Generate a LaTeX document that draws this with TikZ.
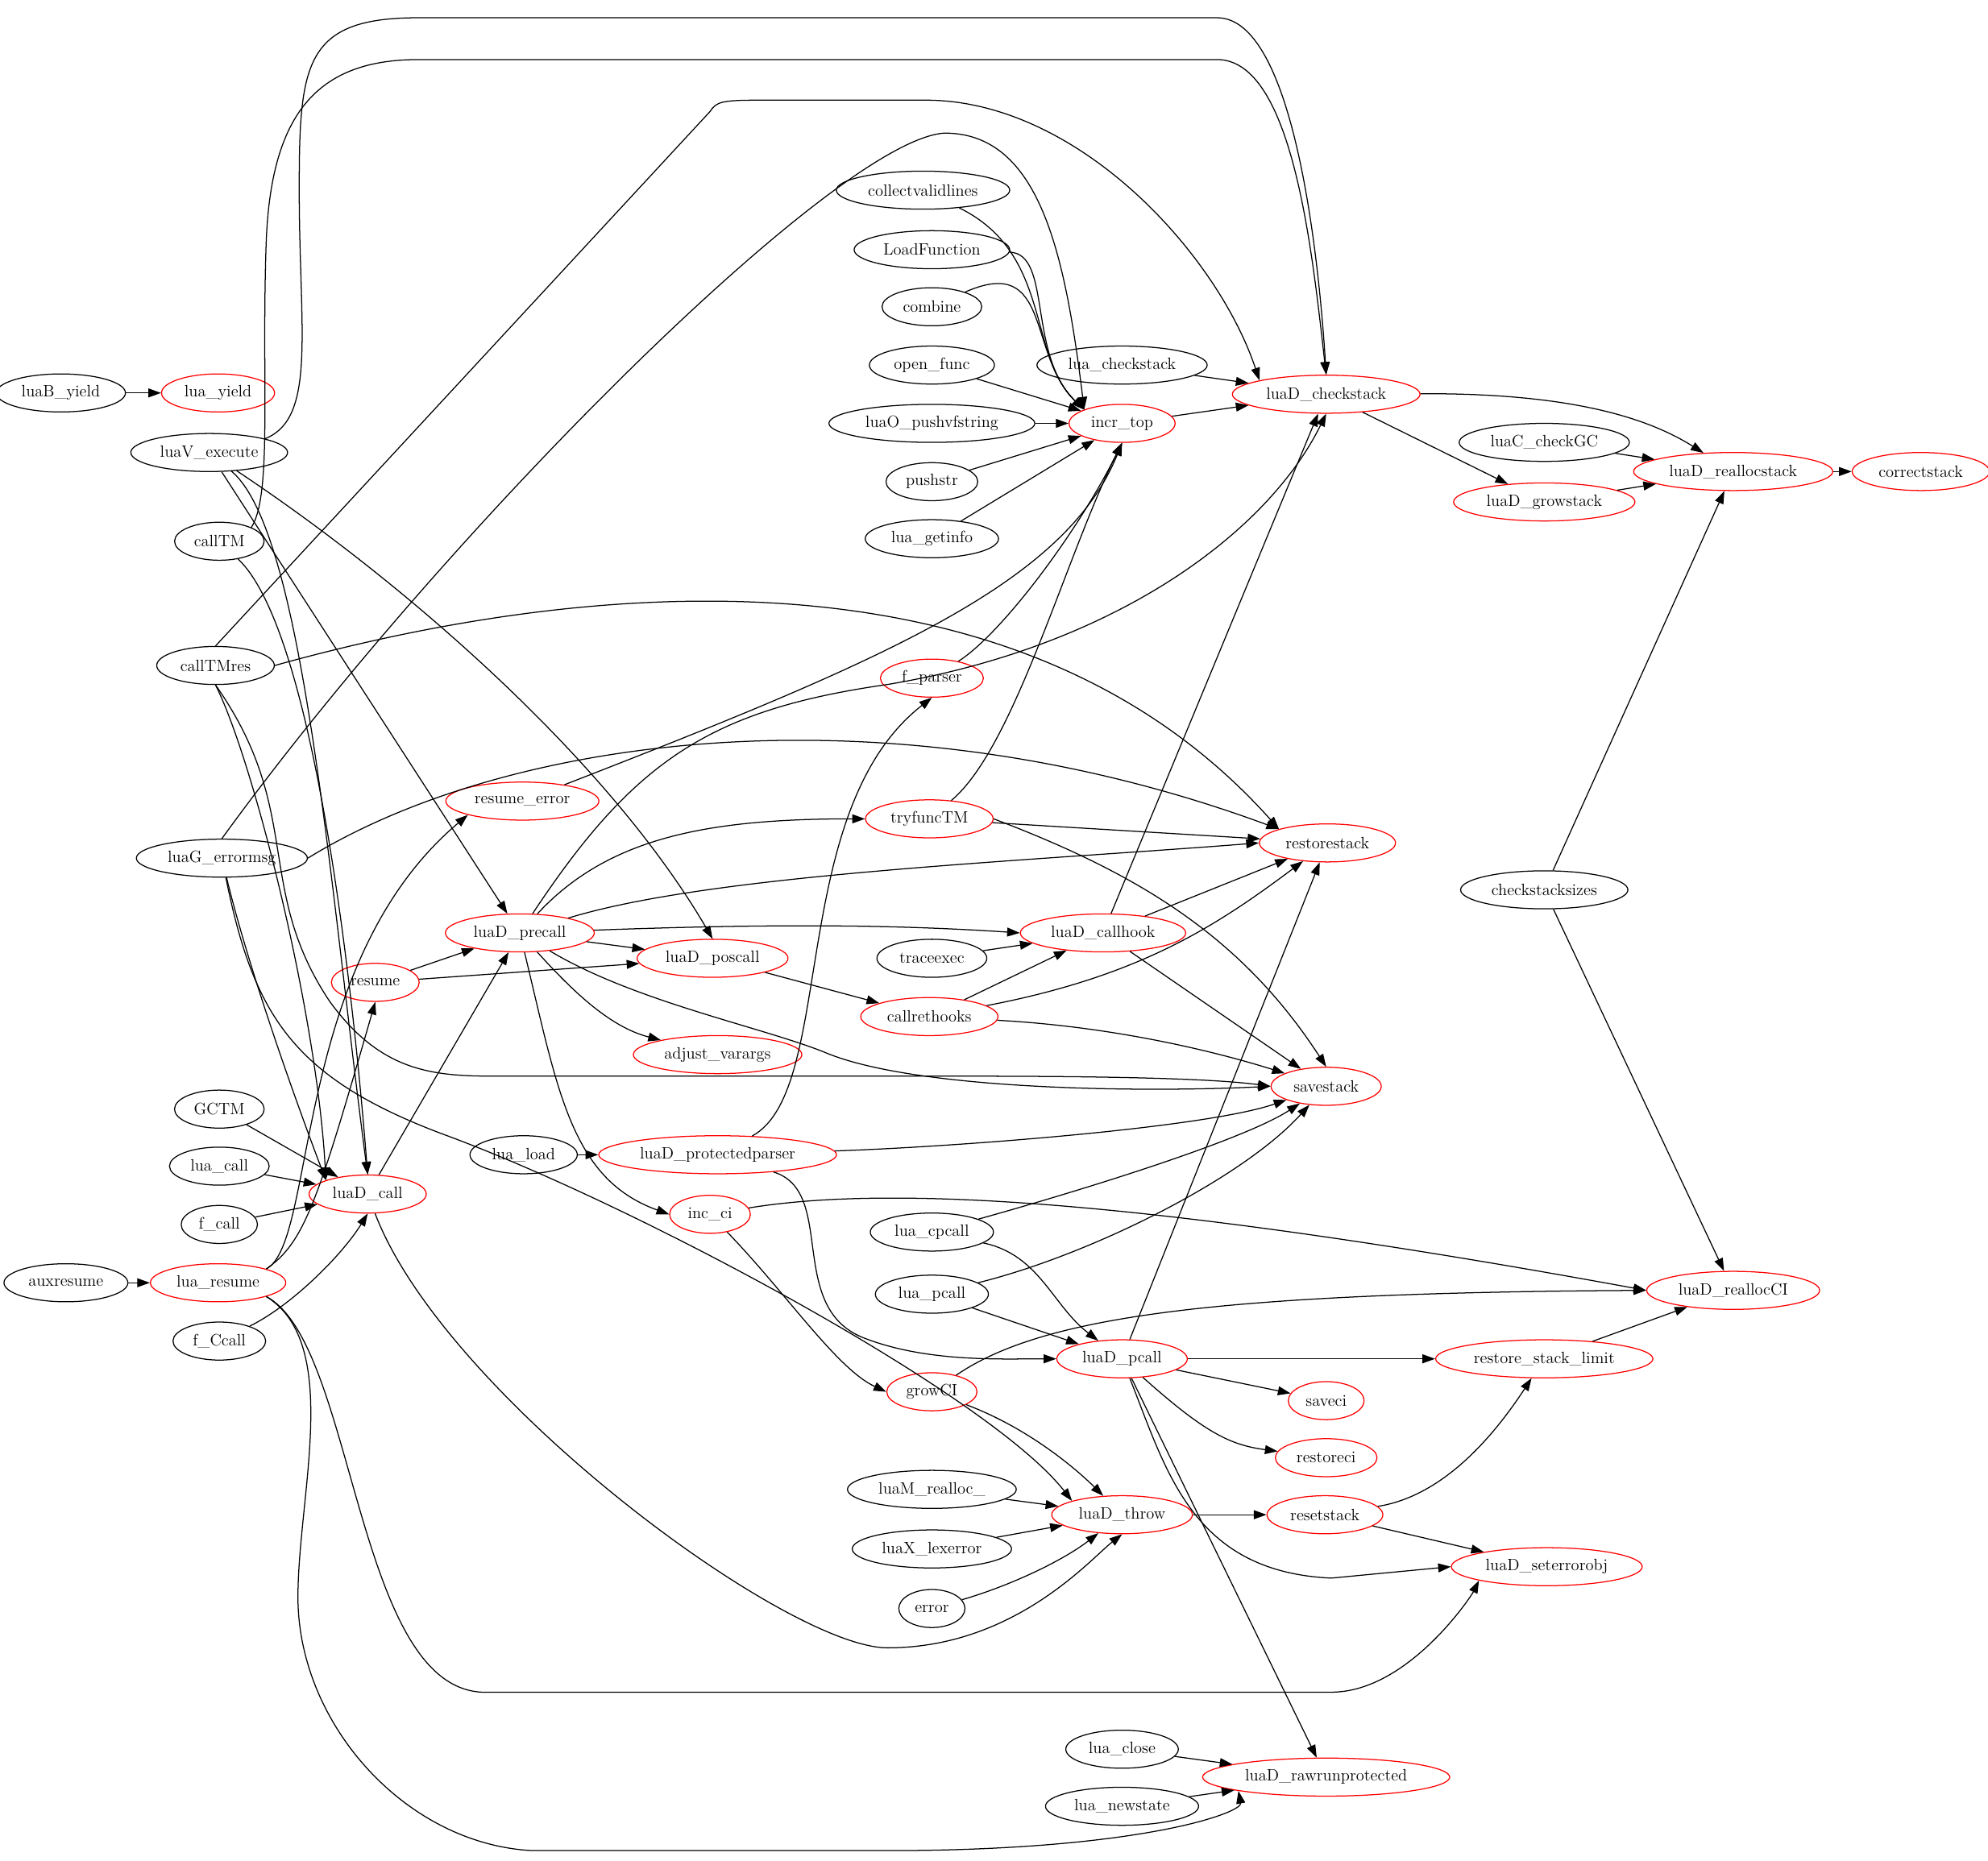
\documentclass[tikz,border=0pt]{standalone}
\usetikzlibrary{arrows.meta,shapes.geometric}
\begin{document}
\begin{tikzpicture}[x=1pt,y=-1pt,
  every node/.style={ellipse,draw=black,line width=0.8pt,font=\fontsize{13}{15}\selectfont,minimum height=30pt,inner xsep=5pt,inner ysep=2pt},
  r/.style={draw=red},
  e/.style={-{Triangle[length=10pt,width=7pt]},line width=0.8pt},
  pn/.style={draw=none,fill=none}]
\useasboundingbox (0,0) rectangle (1568,1468);
% column 1
\node (luaB_yield) at (48,310) {luaB\_yield};
\node[r] (lua_yield) at (172,310) {lua\_yield};
\node (luaV_execute) at (165,357) {luaV\_execute};
\node (callTM) at (173,427) {callTM};
\node (callTMres) at (170,525) {callTMres};
\node (luaG_errormsg) at (175,677) {luaG\_errormsg};
\node (GCTM) at (173,875) {GCTM};
\node (lua_call) at (173,920) {lua\_call};
\node (f_call) at (173,966) {f\_call};
\node (auxresume) at (52,1012) {auxresume};
\node[r] (lua_resume) at (172,1012) {lua\_resume};
\node (f_Ccall) at (173,1058) {f\_Ccall};
% column 2
\node[r] (luaD_call) at (290,942) {luaD\_call};
\node[r] (resume) at (296,775) {resume};
\node[r] (resume_error) at (412,632) {resume\_error};
\node[r] (luaD_precall) at (410,736) {luaD\_precall};
\node[r] (luaD_poscall) at (562,756) {luaD\_poscall};
\node[r] (adjust_varargs) at (566,832) {adjust\_varargs};
\node (lua_load) at (413,911) {lua\_load};
\node[r] (luaD_protectedparser) at (566,911) {luaD\_protectedparser};
\node[r] (inc_ci) at (560,958) {inc\_ci};
% column 3
\node (collectvalidlines) at (728,150) {collectvalidlines};
\node (LoadFunction) at (735,197) {LoadFunction};
\node (combine) at (735,242) {combine};
\node (open_func) at (735,288) {open\_func};
\node (luaO_pushvfstring) at (735,334) {luaO\_pushvfstring};
\node (pushstr) at (735,380) {pushstr};
\node (lua_getinfo) at (735,425) {lua\_getinfo};
\node[r] (f_parser) at (735,535) {f\_parser};
\node[r] (tryfuncTM) at (733,646) {tryfuncTM};
\node (traceexec) at (735,756) {traceexec};
\node[r] (callrethooks) at (733,802) {callrethooks};
\node (lua_cpcall) at (735,972) {lua\_cpcall};
\node (lua_pcall) at (735,1021) {lua\_pcall};
\node[r] (growCI) at (735,1098) {growCI};
\node (luaM_realloc_) at (735,1175) {luaM\_realloc\_};
\node (luaX_lexerror) at (735,1222) {luaX\_lexerror};
\node (error) at (735,1269) {error};
% column 4
\node[r] (incr_top) at (885,334) {incr\_top};
\node (lua_checkstack) at (885,288) {lua\_checkstack};
\node[r] (luaD_callhook) at (870,736) {luaD\_callhook};
\node[r] (luaD_pcall) at (885,1072) {luaD\_pcall};
\node[r] (luaD_throw) at (885,1195) {luaD\_throw};
\node (lua_close) at (885,1380) {lua\_close};
\node (lua_newstate) at (885,1425) {lua\_newstate};
% column 5
\node[r] (luaD_checkstack) at (1046,311) {luaD\_checkstack};
\node[r] (restorestack) at (1047,665) {restorestack};
\node[r] (savestack) at (1046,857) {savestack};
\node[r] (saveci) at (1046,1105) {saveci};
\node[r] (restoreci) at (1046,1150) {restoreci};
\node[r] (resetstack) at (1045,1195) {resetstack};
\node[r] (luaD_rawrunprotected) at (1046,1402) {luaD\_rawrunprotected};
% column 6
\node (luaC_checkGC) at (1218,349) {luaC\_checkGC};
\node[r] (luaD_growstack) at (1218,396) {luaD\_growstack};
\node[r] (luaD_reallocstack) at (1367,372) {luaD\_reallocstack};
\node[r] (correctstack) at (1515,372) {correctstack};
\node (checkstacksizes) at (1218,702) {checkstacksizes};
\node[r] (restore_stack_limit) at (1218,1072) {restore\_stack\_limit};
\node[r] (luaD_reallocCI) at (1367,1018) {luaD\_reallocCI};
\node[r] (luaD_seterrorobj) at (1220,1236) {luaD\_seterrorobj};

% edges
\draw[e] (luaB_yield) -- (lua_yield);
\draw[e] (luaV_execute.north east) .. controls (250,330) and (236,260) .. (236,150) .. controls (236,50) and (240,14) .. (330,14) -- (960,14) .. controls (1020,14) and (1040,200) .. (luaD_checkstack.north);
\draw[e] (callTM.north east) .. controls (215,390) and (206,300) .. (210,190) .. controls (214,90) and (250,47) .. (330,47) -- (960,47) .. controls (1020,47) and (1035,200) .. (luaD_checkstack.north);
\draw[e] (callTMres.north) -- (560,88) .. controls (565,80) and (570,79) .. (600,79) -- (730,79) .. controls (850,79) and (960,200) .. (luaD_checkstack.north west);
\draw[e] (luaG_errormsg.north) .. controls (350,420) and (660,110) .. (745,105) .. controls (820,105) and (840,200) .. (incr_top.north west);
\draw[e] (luaV_execute) .. controls (240,420) and (260,700) .. (luaD_call.north);
\draw[e] (luaV_execute) -- (luaD_precall);
\draw[e] (luaV_execute) .. controls (320,460) and (480,600) .. (luaD_poscall.north);
\draw[e] (callTM) .. controls (250,500) and (280,800) .. (luaD_call.north);
\draw[e] (callTMres.south) .. controls (200,600) and (250,800) .. (luaD_call.north west);
\draw[e] (callTMres.south) .. controls (240,640) and (200,700) .. (260,790) .. controls (300,845) and (340,849) .. (390,849) -- (750,849) .. controls (850,849) and (950,850) .. (savestack.west);
\draw[e] (callTMres.east) .. controls (450,460) and (800,420) .. (restorestack.north west);
\draw[e] (luaG_errormsg.east) .. controls (400,580) and (700,540) .. (restorestack.north west);
\draw[e] (luaG_errormsg) .. controls (195,760) and (230,860) .. (luaD_call.north west);
\draw[e] (luaG_errormsg) .. controls (200,800) and (230,850) .. (350,895) .. controls (500,950) and (780,1100) .. (luaD_throw.north west);
\draw[e] (GCTM) -- (luaD_call);
\draw[e] (lua_call) -- (luaD_call);
\draw[e] (f_call) -- (luaD_call);
\draw[e] (f_Ccall) .. controls (230,1030) and (270,990) .. (luaD_call.south);
\draw[e] (auxresume) -- (lua_resume);
\draw[e] (lua_resume.north east) .. controls (240,980) and (250,950) .. (resume.south);
\draw[e] (lua_resume.north east) .. controls (250,980) and (230,760) .. (resume_error.south west);
\draw[e] (lua_resume.south east) .. controls (280,1060) and (280,1330) .. (380,1335) -- (1050,1335) .. controls (1110,1335) and (1160,1260) .. (luaD_seterrorobj.south west);
\draw[e] (lua_resume.south east) .. controls (270,1060) and (235,1180) .. (235,1260) .. controls (235,1360) and (320,1455) .. (420,1460) -- (700,1460) .. controls (900,1460) and (980,1430) .. (luaD_rawrunprotected.south west);
\draw[e] (luaD_call) -- (luaD_precall);
\draw[e] (luaD_call) .. controls (350,1100) and (620,1300) .. (700,1300) .. controls (800,1300) and (860,1230) .. (luaD_throw.south);
\draw[e] (resume) -- (luaD_precall);
\draw[e] (resume) -- (luaD_poscall);
\draw[e] (resume_error) .. controls (700,520) and (840,460) .. (incr_top.south);
\draw[e] (luaD_precall) .. controls (500,600) and (560,560) .. (700,540) .. controls (880,510) and (1000,420) .. (luaD_checkstack.south);
\draw[e] (luaD_precall) .. controls (480,660) and (560,646) .. (tryfuncTM.west);
\draw[e] (luaD_precall) .. controls (560,690) and (800,680) .. (restorestack.west);
\draw[e] (luaD_precall) .. controls (600,729) and (700,729) .. (luaD_callhook.west);
\draw[e] (luaD_precall) -- (luaD_poscall);
\draw[e] (luaD_precall) .. controls (500,790) and (600,810) .. (650,830) .. controls (720,860) and (900,862) .. (savestack.west);
\draw[e] (luaD_precall) .. controls (450,780) and (480,810) .. (adjust_varargs);
\draw[e] (luaD_precall) .. controls (440,860) and (450,930) .. (inc_ci.west);
\draw[e] (luaD_poscall) -- (callrethooks);
\draw[e] (callrethooks) -- (luaD_callhook);
\draw[e] (callrethooks) .. controls (900,770) and (960,730) .. (restorestack);
\draw[e] (callrethooks) .. controls (880,810) and (960,830) .. (savestack);
\draw[e] (traceexec) -- (luaD_callhook);
\draw[e] (luaD_callhook) -- (luaD_checkstack);
\draw[e] (luaD_callhook) -- (restorestack);
\draw[e] (luaD_callhook) -- (savestack);
\draw[e] (tryfuncTM) .. controls (800,590) and (840,440) .. (incr_top.south);
\draw[e] (tryfuncTM) -- (restorestack);
\draw[e] (tryfuncTM.east) .. controls (900,690) and (980,740) .. (savestack.north);
\draw[e] (f_parser) .. controls (790,500) and (850,420) .. (incr_top.south);
\foreach \s in {collectvalidlines,LoadFunction,combine}
  \draw[e] (\s) .. controls (830,200) and (810,280) .. (incr_top.north west);
\foreach \s in {open_func,luaO_pushvfstring,pushstr,lua_getinfo}
  \draw[e] (\s) -- (incr_top);
\draw[e] (incr_top) -- (luaD_checkstack);
\draw[e] (lua_checkstack) -- (luaD_checkstack);
\draw[e] (luaD_checkstack) .. controls (1240,310) and (1300,330) .. (luaD_reallocstack);
\draw[e] (luaD_checkstack) -- (luaD_growstack);
\draw[e] (luaC_checkGC) -- (luaD_reallocstack);
\draw[e] (luaD_growstack) -- (luaD_reallocstack);
\draw[e] (luaD_reallocstack) -- (correctstack);
\draw[e] (checkstacksizes) -- (luaD_reallocstack);
\draw[e] (checkstacksizes) -- (luaD_reallocCI);
\draw[e] (lua_load) -- (luaD_protectedparser);
\draw[e] (luaD_protectedparser) .. controls (660,860) and (620,640) .. (f_parser.south);
\draw[e] (luaD_protectedparser) .. controls (750,905) and (950,890) .. (savestack);
\draw[e] (luaD_protectedparser) .. controls (660,940) and (620,1030) .. (680,1055) .. controls (730,1075) and (790,1072) .. (luaD_pcall.west);
\draw[e] (inc_ci) .. controls (700,935) and (900,945) .. (luaD_reallocCI.west);
\draw[e] (inc_ci) .. controls (620,1020) and (660,1080) .. (growCI.west);
\draw[e] (lua_cpcall) .. controls (820,990) and (830,1030) .. (luaD_pcall);
\draw[e] (lua_cpcall) .. controls (850,940) and (980,900) .. (savestack);
\draw[e] (lua_pcall) -- (luaD_pcall);
\draw[e] (lua_pcall) .. controls (860,990) and (980,930) .. (savestack);
\draw[e] (growCI) .. controls (820,1040) and (950,1020) .. (luaD_reallocCI.west);
\draw[e] (growCI) .. controls (820,1130) and (860,1170) .. (luaD_throw);
\draw[e] (luaD_pcall) -- (restorestack);
\draw[e] (luaD_pcall) -- (restore_stack_limit);
\draw[e] (luaD_pcall) -- (saveci);
\draw[e] (luaD_pcall) .. controls (950,1130) and (970,1140) .. (restoreci);
\draw[e] (luaD_pcall) .. controls (920,1160) and (940,1240) .. (1050,1245) -- (luaD_seterrorobj.west);
\draw[e] (luaD_pcall) -- (luaD_rawrunprotected);
\draw[e] (luaM_realloc_) -- (luaD_throw);
\draw[e] (luaX_lexerror) -- (luaD_throw);
\draw[e] (error) .. controls (800,1250) and (840,1230) .. (luaD_throw);
\draw[e] (luaD_throw) -- (resetstack);
\draw[e] (resetstack) .. controls (1140,1180) and (1180,1130) .. (restore_stack_limit);
\draw[e] (resetstack) -- (luaD_seterrorobj);
\draw[e] (restore_stack_limit) -- (luaD_reallocCI);
\draw[e] (lua_close) -- (luaD_rawrunprotected);
\draw[e] (lua_newstate) -- (luaD_rawrunprotected);
\end{tikzpicture}
\end{document}
